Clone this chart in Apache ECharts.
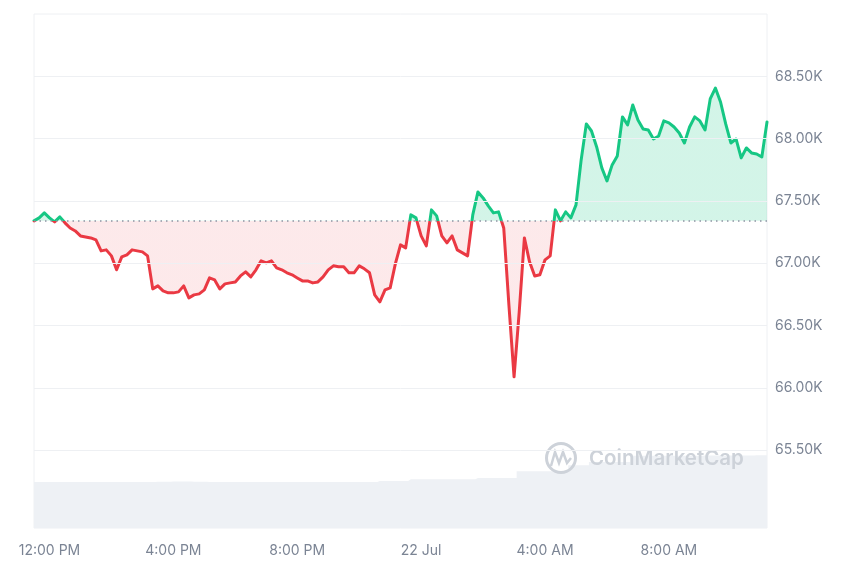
<!DOCTYPE html>
<html>
<head>
<meta charset="utf-8">
<script src="https://cdn.jsdelivr.net/npm/echarts@6/dist/echarts.min.js"></script>
<style>
  html, body { margin: 0; padding: 0; background: #fff; }
  #chart { width: 860px; height: 573px; }
</style>
</head>
<body>
<div id="chart"></div>
<script>
// 10 minute steps, 21 Jul 11:30 -> 22 Jul 11:10
const startMinute = 11 * 60 + 30;
const stepMinutes = 10;
const pointCount = 143;

// opening price of the period (dotted baseline)
const openPrice = 67340;

// BTC price, USD
const prices = [
  67340, 67364, 67404, 67364, 67332, 67372, 67324, 67283, 67259, 67219,
  67211, 67203, 67187, 67099, 67107, 67059, 66947, 67051, 67067, 67107,
  67099, 67091, 67059, 66794, 66818, 66778, 66762, 66762, 66770, 66818,
  66722, 66746, 66754, 66786, 66882, 66866, 66794, 66834, 66842, 66850,
  66898, 66931, 66890, 66947, 67019, 67003, 67019, 66963, 66947, 66923,
  66907, 66882, 66858, 66858, 66842, 66850, 66890, 66947, 66979, 66971,
  66971, 66923, 66923, 66979, 66955, 66923, 66746, 66690, 66786, 66802,
  66995, 67147, 67123, 67388, 67364, 67219, 67139, 67428, 67380, 67219,
  67163, 67219, 67107, 67083, 67059, 67388, 67572, 67524, 67460, 67404,
  67412, 67283, 66666, 66088, 66610, 67203, 67011, 66898, 66907, 67027,
  67059, 67428, 67340, 67412, 67364, 67468, 67829, 68118, 68061, 67933,
  67765, 67660, 67789, 67861, 68174, 68110, 68270, 68150, 68077, 68069,
  67997, 68021, 68142, 68126, 68093, 68045, 67965, 68093, 68174, 68142,
  68069, 68318, 68406, 68294, 68118, 67965, 67997, 67845, 67925, 67885,
  67877, 67853, 68134
];

// 24h volume, billions USD
const volumes = [
  16.1, 16.1, 16.1, 16.1, 16.1, 16.1, 16.1, 16.1, 16.1, 16.1,
  16.1, 16.1, 16.1, 16.1, 16.1, 16.1, 16.1, 16.1, 16.1, 16.1,
  16.1, 16.1, 16.1, 16.1, 16.2, 16.2, 16.2, 16.3, 16.3, 16.3,
  16.3, 16.2, 16.2, 16.2, 16.1, 16.1, 16.1, 16.1, 16.1, 16.1,
  16.1, 16.1, 16.1, 16.1, 16.1, 16.1, 16.1, 16.1, 16.1, 16.1,
  16.1, 16.1, 16.1, 16.1, 16.1, 16.1, 16.1, 16.1, 16.1, 16.1,
  16.1, 16.1, 16.1, 16.1, 16.1, 16.1, 16.1, 16.5, 16.5, 16.5,
  16.5, 16.5, 16.5, 17.1, 17.1, 17.1, 17.1, 17.1, 17.1, 17.1,
  17.1, 17.1, 17.1, 17.1, 17.1, 17.1, 17.5, 17.5, 17.5, 17.5,
  17.5, 17.5, 17.5, 17.5, 19.9, 19.9, 19.9, 19.9, 19.9, 19.9,
  19.9, 19.9, 19.9, 19.9, 22.0, 22.0, 22.0, 22.0, 23.1, 23.1,
  23.1, 23.1, 23.1, 23.1, 23.1, 23.1, 25.3, 25.3, 25.3, 25.3,
  25.3, 25.3, 25.3, 25.3, 25.3, 25.3, 25.3, 25.3, 25.3, 25.3,
  25.4, 25.4, 25.4, 25.4, 25.4, 25.4, 25.4, 25.4, 25.4, 25.4,
  25.5, 25.5, 25.5
];

// x axis tick labels
const tickLabels = {
  '21 Jul 12:00': '12:00 PM',
  '21 Jul 16:00': '4:00 PM',
  '21 Jul 20:00': '8:00 PM',
  '22 Jul 00:00': '22 Jul',
  '22 Jul 04:00': '4:00 AM',
  '22 Jul 08:00': '8:00 AM'
};

// y axis gridlines / labels
const gridValues = [65500, 66000, 66500, 67000, 67500, 68000, 68500];

const pad = (n) => (n < 10 ? '0' + n : '' + n);
const categories = [];
for (let i = 0; i < pointCount; i++) {
  const m = startMinute + i * stepMinutes;
  const day = m >= 1440 ? 22 : 21;
  const mm = m % 1440;
  categories.push(day + ' Jul ' + pad(Math.floor(mm / 60)) + ':' + pad(mm % 60));
}

const GREEN = '#16c784';
const RED = '#ea3943';
const LABEL = '#7b8494';
const LOGO = '#cdd2d9';

let myChart = echarts.init(document.getElementById('chart'));

myChart.setOption({
  animation: false,
  backgroundColor: '#fff',
  grid: {
    left: 34,
    right: 93,
    top: 14,
    bottom: 45,
    show: true,
    borderColor: '#eef0f3',
    borderWidth: 1,
    containLabel: false,
    outerBoundsMode: 'none'
  },
  // finite pieces so the gradient gets real stops, split at the open price
  visualMap: [
    {
      show: false,
      type: 'piecewise',
      seriesIndex: 2,
      dimension: 1,
      pieces: [
        { gte: 60000, lt: openPrice, color: RED },
        { gte: openPrice, lte: 75000, color: GREEN }
      ]
    },
    {
      show: false,
      type: 'piecewise',
      seriesIndex: 1,
      dimension: 1,
      pieces: [
        { gte: 60000, lt: openPrice, color: 'rgba(234,57,67,0.11)' },
        { gte: openPrice, lte: 75000, color: 'rgba(22,199,132,0.19)' }
      ]
    }
  ],
  xAxis: {
    type: 'category',
    data: categories,
    boundaryGap: false,
    axisLine: { show: false },
    axisTick: { show: false },
    splitLine: { show: false },
    axisLabel: {
      interval: function (index, value) {
        return tickLabels[value] !== undefined;
      },
      formatter: function (value) {
        return tickLabels[value] || '';
      },
      margin: 16,
      color: LABEL,
      fontSize: 14,
      fontFamily: 'Inter'
    }
  },
  yAxis: [
    {
      type: 'value',
      position: 'right',
      min: 64875,
      max: 69000,
      interval: 125,
      axisLine: { show: false },
      axisTick: { show: false },
      splitLine: { show: false },
      axisLabel: {
        margin: 8,
        color: LABEL,
        fontSize: 14,
        fontFamily: 'Inter',
        formatter: function (v) {
          if (gridValues.indexOf(v) < 0) return '';
          return (v / 1000).toFixed(2) + 'K';
        }
      }
    },
    {
      type: 'value',
      show: false,
      min: 0,
      max: 180
    }
  ],
  graphic: [
    {
      type: 'circle',
      z: 5,
      shape: { cx: 561, cy: 458, r: 14.5 },
      style: { fill: 'none', stroke: LOGO, lineWidth: 3 }
    },
    {
      type: 'polyline',
      z: 5,
      shape: { points: [[551, 466], [555, 452], [559, 463], [563, 452], [567, 463], [571, 458]] },
      style: { fill: 'none', stroke: LOGO, lineWidth: 2.5 }
    },
    {
      type: 'text',
      z: 5,
      style: {
        text: 'CoinMarketCap',
        x: 589,
        y: 459,
        verticalAlign: 'middle',
        fill: LOGO,
        font: '600 20.5px Inter'
      }
    }
  ],
  series: [
    {
      name: 'Volume',
      type: 'line',
      yAxisIndex: 1,
      data: volumes,
      step: 'middle',
      symbol: 'none',
      silent: true,
      lineStyle: { width: 0 },
      itemStyle: { color: '#eef1f5' },
      areaStyle: { color: '#eef1f5', opacity: 1 },
      z: 1
    },
    {
      name: 'Fill',
      type: 'line',
      yAxisIndex: 0,
      data: prices,
      symbol: 'none',
      silent: true,
      lineStyle: { width: 0 },
      areaStyle: { origin: openPrice, opacity: 1 },
      markLine: {
        silent: true,
        symbol: 'none',
        label: { show: false },
        lineStyle: { type: 'solid', color: '#eef0f3', width: 1 },
        data: gridValues.map((v) => ({ yAxis: v }))
      },
      z: 2
    },
    {
      name: 'Price',
      type: 'line',
      yAxisIndex: 0,
      data: prices,
      symbol: 'none',
      lineStyle: { width: 3, join: 'round', cap: 'round' },
      markLine: {
        silent: true,
        symbol: 'none',
        label: { show: false },
        lineStyle: { type: [1.5, 4], color: '#8c94a3', width: 1.5 },
        data: [{ yAxis: openPrice }]
      },
      z: 3
    }
  ]
});

window.addEventListener('resize', function () {
  myChart.resize();
});
</script>
</body>
</html>
